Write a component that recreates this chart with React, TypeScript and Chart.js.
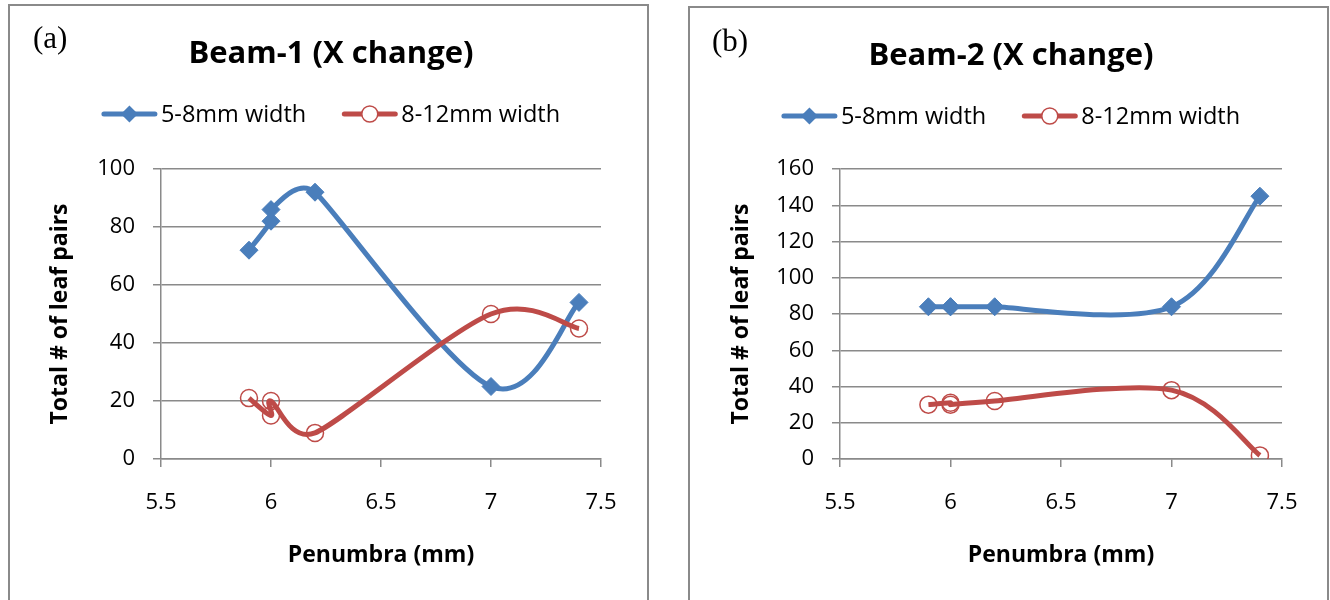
import React, { useEffect, useRef } from 'react';
import { Chart, registerables } from 'chart.js';

Chart.register(...registerables);

// ---------- data ----------
const seriesLabels = ['5-8mm width', '8-12mm width'];
const xTicks = [5.5, 6, 6.5, 7, 7.5];

// Panel (a) Beam-1
const beam1NarrowX = [5.9, 6, 6, 6.2, 7, 7.4];
const beam1NarrowY = [72, 82, 86, 92, 25, 54];
const beam1WideX = [5.9, 6, 6, 6.2, 7, 7.4];
const beam1WideY = [21, 15, 20, 9, 50, 45];
const beam1YTicks = [0, 20, 40, 60, 80, 100];

// Panel (b) Beam-2
const beam2NarrowX = [5.9, 6, 6, 6.2, 7, 7.4];
const beam2NarrowY = [84, 84, 84, 84, 84, 145];
const beam2WideX = [5.9, 6, 6, 6.2, 7, 7.4];
const beam2WideY = [30, 31, 30, 32, 38, 2];
const beam2YTicks = [0, 20, 40, 60, 80, 100, 120, 140, 160];

const BLUE = '#4A7EBB';
const RED = '#BE4B48';
const GRID = '#8a8a8a';
const SANS = '"Open Sans", sans-serif';
const SERIF = '"Liberation Serif", serif';

// Spreadsheet-style smoothing: control points at +/- f * (next - prev),
// f = 1/6, limited to half of the distance to the nearer neighbour.
const smoothPlugin = {
  id: 'sheetSmooth',
  beforeDatasetDraw(chart: any, args: any) {
    const meta = args.meta;
    const line = meta.dataset;
    const pts = meta.data;
    if (!line || !pts || pts.length < 2) return;
    const n = pts.length;
    const dist = (a: any, b: any) => Math.hypot(a.x - b.x, a.y - b.y);
    for (let i = 0; i < n; i++) {
      const p = pts[i];
      const prev = pts[Math.max(0, i - 1)];
      const next = pts[Math.min(n - 1, i + 1)];
      const d02 = dist(prev, next);
      let f = 1 / 6;
      if (d02 > 0) {
        if (prev !== p) f = Math.min(f, dist(prev, p) / (2 * d02));
        if (next !== p) f = Math.min(f, dist(p, next) / (2 * d02));
      } else {
        f = 0;
      }
      const tx = (next.x - prev.x) * f;
      const ty = (next.y - prev.y) * f;
      p.cp1x = p.x - tx;
      p.cp1y = p.y - ty;
      p.cp2x = p.x + tx;
      p.cp2y = p.y + ty;
    }
    line._pointsUpdated = true;
  },
};

const headerPlugin = {
  id: 'panelHeader',
  afterDraw(chart: any, _args: any, opts: any) {
    const ctx = chart.ctx;
    ctx.save();
    ctx.fillStyle = '#000';
    ctx.textBaseline = 'middle';
    // tag
    ctx.textAlign = 'left';
    ctx.font = `${opts.tagSize}px ${SERIF}`;
    ctx.fillText(opts.tag, opts.tagX, opts.tagY);
    // title
    ctx.textAlign = 'center';
    ctx.font = `bold ${opts.titleSize}px ${SANS}`;
    ctx.fillText(opts.title, opts.cx, opts.titleY);
    // legend
    ctx.font = `${opts.legendSize}px ${SANS}`;
    const lineLen = 55;
    const gap = 4;
    const itemGap = 36;
    const items = chart.data.datasets.map((ds: any) => ({ ds, w: ctx.measureText(ds.label).width }));
    const total = items.reduce((s: number, it: any) => s + lineLen + gap + it.w, 0) + itemGap * (items.length - 1);
    let x = opts.legendCx - total / 2;
    const y = opts.legendY;
    items.forEach(({ ds, w }: any) => {
      ctx.strokeStyle = ds.borderColor;
      ctx.lineWidth = 5;
      ctx.lineCap = 'round';
      ctx.beginPath();
      ctx.moveTo(x + 2, y);
      ctx.lineTo(x + lineLen - 2, y);
      ctx.stroke();
      const mx = x + lineLen / 2;
      if (ds.pointStyle === 'rectRot') {
        const r = 8.5;
        ctx.fillStyle = ds.borderColor;
        ctx.beginPath();
        ctx.moveTo(mx, y - r);
        ctx.lineTo(mx + r, y);
        ctx.lineTo(mx, y + r);
        ctx.lineTo(mx - r, y);
        ctx.closePath();
        ctx.fill();
      } else {
        ctx.fillStyle = '#fff';
        ctx.lineWidth = 1.5;
        ctx.beginPath();
        ctx.arc(mx, y, 8, 0, Math.PI * 2);
        ctx.fill();
        ctx.stroke();
      }
      ctx.fillStyle = '#000';
      ctx.textAlign = 'left';
      ctx.fillText(ds.label, x + lineLen + gap, y + 1);
      x += lineLen + gap + w + itemGap;
    });
    ctx.restore();
  },
};

type PanelCfg = {
  left: number;
  top: number;
  tag: string;
  title: string;
  narrowX: number[];
  narrowY: number[];
  wideX: number[];
  wideY: number[];
  yTicks: number[];
  padL: number;
  padR: number;
  padT: number;
  padB: number;
  yw: number;
  xh: number;
  titleY: number;
  legendY: number;
  cx: number;
  tagX: number;
  tagY: number;
};

const W = 637;

function Panel({ cfg }: { cfg: PanelCfg }) {
  const ref = useRef<HTMLCanvasElement>(null);
  const H = 600 - cfg.top - 2;
  useEffect(() => {
    const yMin = cfg.yTicks[0];
    const yMax = cfg.yTicks[cfg.yTicks.length - 1];
    const yStep = cfg.yTicks[1] - cfg.yTicks[0];
    const chart = new Chart(ref.current as HTMLCanvasElement, {
      type: 'scatter',
      data: {
        datasets: [
          {
            label: seriesLabels[0],
            data: cfg.narrowX.map((x, i) => ({ x, y: cfg.narrowY[i] })),
            showLine: true,
            tension: 0.3,
            borderColor: BLUE,
            backgroundColor: BLUE,
            borderWidth: 5,
            pointStyle: 'rectRot',
            pointRadius: 9,
            pointBorderWidth: 1,
            pointBackgroundColor: BLUE,
            pointBorderColor: BLUE,
            order: 1,
          } as any,
          {
            label: seriesLabels[1],
            data: cfg.wideX.map((x, i) => ({ x, y: cfg.wideY[i] })),
            showLine: true,
            tension: 0.3,
            borderColor: RED,
            backgroundColor: 'rgba(255,255,255,0)',
            borderWidth: 5,
            pointStyle: 'circle',
            pointRadius: 8.5,
            pointBorderWidth: 1.5,
            pointBackgroundColor: 'rgba(255,255,255,0)',
            pointBorderColor: RED,
            order: 0,
          } as any,
        ],
      },
      options: {
        responsive: false,
        animation: false,
        devicePixelRatio: 1,
        layout: { padding: { left: cfg.padL, right: cfg.padR, top: cfg.padT, bottom: cfg.padB } },
        plugins: {
          legend: { display: false },
          tooltip: { enabled: false },
          title: { display: false },
          panelHeader: {
            tag: cfg.tag,
            tagSize: 31,
            tagX: cfg.tagX,
            tagY: cfg.tagY,
            title: cfg.title,
            titleSize: 31,
            titleY: cfg.titleY,
            cx: cfg.cx,
            legendSize: 23.5,
            legendY: cfg.legendY,
            legendCx: cfg.cx,
          },
        } as any,
        scales: {
          x: {
            type: 'linear',
            min: xTicks[0],
            max: xTicks[xTicks.length - 1],
            afterBuildTicks: (s: any) => {
              s.ticks = xTicks.map((v) => ({ value: v }));
            },
            ticks: {
              color: '#000',
              font: { family: SANS, size: 22 },
              padding: 22.8,
              maxRotation: 0,
              autoSkip: false,
              callback: (v: any) => `${v}`,
            },
            grid: { drawOnChartArea: false, drawTicks: true, tickLength: 8, color: GRID, lineWidth: 1.5 },
            border: { display: true, color: GRID, width: 1.5 },
            title: {
              display: true,
              text: 'Penumbra (mm)',
              color: '#000',
              font: { family: SANS, size: 23, weight: 'bold' },
              padding: 0,
            },
            afterFit: (s: any) => {
              s.height = cfg.xh;
            },
          },
          y: {
            type: 'linear',
            min: yMin,
            max: yMax,
            ticks: {
              stepSize: yStep,
              color: '#000',
              font: { family: SANS, size: 22 },
              padding: 18,
              callback: (v: any) => `${v}`,
            },
            grid: { color: GRID, lineWidth: 1.5, tickLength: 8, drawTicks: true },
            border: { display: true, color: GRID, width: 1.5 },
            title: {
              display: true,
              text: 'Total # of leaf pairs',
              color: '#000',
              font: { family: SANS, size: 23, weight: 'bold' },
              padding: 0,
            },
            afterFit: (s: any) => {
              s.width = cfg.yw;
            },
          },
        },
      } as any,
      plugins: [smoothPlugin as any, headerPlugin as any],
    });
    return () => chart.destroy();
  }, [cfg]);

  return (
    <div
      style={{
        position: 'absolute',
        left: cfg.left,
        top: cfg.top,
        width: W,
        height: 700,
        border: `2px solid ${GRID}`,
        background: '#fff',
      }}
    >
      <canvas ref={ref} width={W} height={H} style={{ display: 'block', width: W, height: H }} />
    </div>
  );
}

const panelA: PanelCfg = {
  left: 8,
  top: 4,
  tag: '(a)',
  title: 'Beam-1 (X change)',
  narrowX: beam1NarrowX,
  narrowY: beam1NarrowY,
  wideX: beam1WideX,
  wideY: beam1WideY,
  yTicks: beam1YTicks,
  padL: 36.2,
  padR: 46,
  padT: 163,
  padB: 31.2,
  yw: 114.8,
  xh: 109.8,
  titleY: 48,
  legendY: 108,
  cx: 321,
  tagX: 23,
  tagY: 34,
};

const panelB: PanelCfg = {
  left: 688,
  top: 6,
  tag: '(b)',
  title: 'Beam-2 (X change)',
  narrowX: beam2NarrowX,
  narrowY: beam2NarrowY,
  wideX: beam2WideX,
  wideY: beam2WideY,
  yTicks: beam2YTicks,
  padL: 37.2,
  padR: 45,
  padT: 161,
  padB: 31.2,
  yw: 112.8,
  xh: 109.8,
  titleY: 48,
  legendY: 108,
  cx: 321,
  tagX: 22,
  tagY: 35,
};

export default function App() {
  return (
    <div
      style={{
        position: 'fixed',
        left: 0,
        top: 0,
        width: 1330,
        height: 600,
        overflow: 'hidden',
        background: '#fff',
      }}
    >
      <Panel cfg={panelA} />
      <Panel cfg={panelB} />
    </div>
  );
}
